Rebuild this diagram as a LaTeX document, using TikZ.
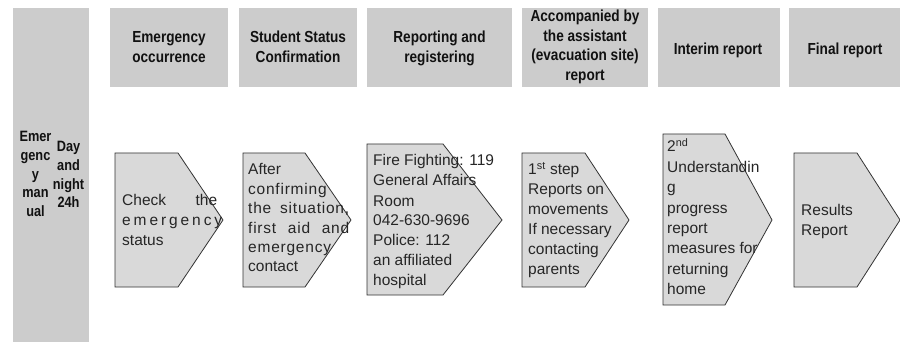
\documentclass[tikz,border=0pt]{standalone}
\usepackage{fontspec}
\setmainfont{Liberation Sans}
\newfontfamily\condfam[FakeStretch=0.85]{Liberation Sans}
\newfontfamily\spreadfam[LetterSpace=5]{Liberation Sans}
\definecolor{hdr}{HTML}{CCCCCC}
\definecolor{shp}{HTML}{D9D9D9}
\definecolor{edge}{HTML}{333333}
\definecolor{txt}{HTML}{111111}
\definecolor{btxt}{HTML}{262626}
\newcommand\hdrfont{\condfam\fontsize{16}{19.4}\selectfont\bfseries}
\newcommand\bodyfont{\fontsize{15.5}{20}\selectfont}
\newcommand\bodyfontb{\fontsize{15.5}{20.4}\selectfont}
\newcommand\bodyfonts{\spreadfam\fontsize{15.5}{19.4}\selectfont}
\newcommand\sidefont{\condfam\fontsize{15}{18.6}\selectfont\bfseries}
\begin{document}
\begin{tikzpicture}[x=1pt,y=-1pt,
  hdrbox/.style={fill=hdr,draw=none},
  chev/.style={fill=shp,draw=edge,line width=0.8pt,line join=miter},
  hdrtxt/.style={anchor=base,inner sep=0pt,font=\hdrfont,text=txt},
  bodytxt/.style={anchor=base west,inner sep=0pt,font=\bodyfont,text=btxt},
  sidetxt/.style={anchor=base,inner sep=0pt,font=\sidefont,text=txt}]
\useasboundingbox (0,0) rectangle (900,342);
\fill[white] (0,0) rectangle (900,342);

% left column
\path[hdrbox] (13,8) rectangle (89,342);
\node[sidetxt] (side1) at (35.5,142) {\parbox[t]{40pt}{\centering Emer\\genc\\y\\man\\ual}};
\node[sidetxt] (side2) at (68.5,152) {\parbox[t]{40pt}{\centering Day\\and\\night\\24h}};

% header boxes
\path[hdrbox] (110,8) rectangle (228,87);
\path[hdrbox] (239,8) rectangle (357,87);
\path[hdrbox] (367,8) rectangle (512,87);
\path[hdrbox] (522,8) rectangle (648,87);
\path[hdrbox] (658,8) rectangle (780,87);
\path[hdrbox] (789,8) rectangle (900,87);

\node[hdrtxt] (h1) at (169,43) {\parbox[t]{116pt}{\centering Emergency\\occurrence}};
\node[hdrtxt] (h2) at (298,43) {\parbox[t]{116pt}{\centering Student Status\\Confirmation}};
\node[hdrtxt] (h3) at (439.5,43) {\parbox[t]{140pt}{\centering Reporting and\\registering}};
\node[hdrtxt] (h4) at (585,22) {\parbox[t]{126pt}{\centering Accompanied by\\the assistant\\(evacuation site)\\report}};
\node[hdrtxt] (h5) at (718,55) {\parbox[t]{120pt}{\centering Interim report}};
\node[hdrtxt] (h6) at (845,55) {\parbox[t]{110pt}{\centering Final report}};

% chevrons
\draw[chev] (115,153) -- (178,153) -- (223,220) -- (178,287) -- (115,287) -- cycle;
\draw[chev] (243,153) -- (305,153) -- (351,220) -- (305,287) -- (243,287) -- cycle;
\draw[chev] (367,144) -- (443,144) -- (502,220) -- (443,295) -- (367,295) -- cycle;
\draw[chev] (522,153) -- (585,153) -- (629,220) -- (585,287) -- (522,287) -- cycle;
\draw[chev] (663,134) -- (725,134) -- (772,220) -- (725,305) -- (663,305) -- cycle;
\draw[chev] (794,153) -- (857,153) -- (900,220) -- (857,287) -- (794,287) -- cycle;

% chevron texts
\node[bodytxt] (b1) at (122,205) {\parbox[t]{110pt}{\raggedright
  \makebox[95pt][s]{Check\hfill the}\\
  \makebox[100pt][s]{e\hfill m\hfill e\hfill r\hfill g\hfill e\hfill n\hfill c\hfill y}\\
  status}};
\node[bodytxt,font=\bodyfonts] (b2) at (248,175) {\parbox[t]{120pt}{\raggedright
  {\rmfamily After}\\confirming\\\makebox[101pt][s]{the situation,}\\\makebox[101pt][s]{first aid and}\\emergency\\{\rmfamily contact}}};
\node[bodytxt] (b3) at (373,166) {\parbox[t]{140pt}{\raggedright
  Fire Fighting: 119\\General Affairs\\Room\\042-630-9696\\Police: 112\\an affiliated\\hospital}};
\node[bodytxt] (b4) at (528,175) {\parbox[t]{120pt}{\raggedright
  1\textsuperscript{st} step\\Reports on\\movements\\If necessary\\contacting\\parents}};
\node[bodytxt,font=\bodyfontb] (b5) at (667,152) {\parbox[t]{120pt}{\raggedright
  2\textsuperscript{nd}\\Understandin\\g\\progress\\report\\measures for\\returning\\home}};
\node[bodytxt] (b6) at (801,215) {\parbox[t]{90pt}{\raggedright Results\\Report}};
\end{tikzpicture}
\end{document}
